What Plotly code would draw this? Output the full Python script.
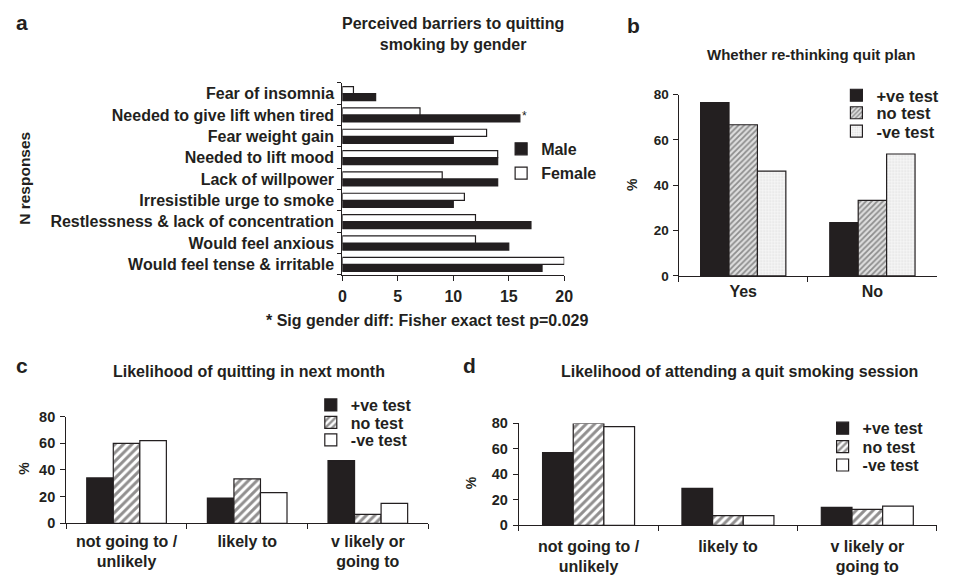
import plotly.graph_objects as go

# ---------------- data ----------------
# Panel a: perceived barriers (top-to-bottom as drawn)
barriers = [
    "Fear of insomnia",
    "Needed to give lift when tired",
    "Fear weight gain",
    "Needed to lift mood",
    "Lack of willpower",
    "Irresistible urge to smoke",
    "Restlessness & lack of concentration",
    "Would feel anxious",
    "Would feel tense & irritable",
]
male = [3, 16, 10, 14, 14, 10, 17, 15, 18]
female = [1, 7, 13, 14, 9, 11, 12, 12, 20]
a_ticks = [0, 5, 10, 15, 20]

# Panel b: whether re-thinking quit plan (%)
replan_cats = ["Yes", "No"]
replan_pos = [76.5, 23.5]
replan_none = [66.7, 33.3]
replan_neg = [46.2, 53.8]

# Panel c: likelihood of quitting in next month (%)
likely_cats = ["not going to /<br>unlikely", "likely to", "v likely or<br>going to"]
quit_pos = [34, 19, 47]
quit_none = [60, 33.3, 6.7]
quit_neg = [62, 23, 15]

# Panel d: likelihood of attending a quit smoking session (%)
attend_pos = [57, 29, 14]
attend_none = [80, 7.5, 12.5]
attend_neg = [77.5, 7.5, 15]

pct_ticks = [0, 20, 40, 60, 80]
group_names = ["+ve test", "no test", "-ve test"]

# ---------------- geometry ----------------
# page is 954x583; the browser's default 8px body margin surrounds the figure
PAGE_OFF = 8
FW, FH = 954 - 2 * PAGE_OFF, 583 - 2 * PAGE_OFF

INK = "#231f20"
FONT = "Liberation Sans, Arial, Helvetica, sans-serif"


def fx(px):
    return min(1.0, max(0.0, (px - PAGE_OFF) / FW))


def fy(py):
    return min(1.0, max(0.0, 1 - (py - PAGE_OFF) / FH))


def bold(size):
    return dict(family=FONT, size=size, color=INK, weight="bold")


line = dict(color=INK, width=1.2)

fig = go.Figure()

# Panel a
fig.add_trace(go.Bar(y=barriers, x=male, orientation="h", name="Male",
                     marker=dict(color=INK, line=line), showlegend=True,
                     xaxis="x", yaxis="y", legend="legend"))
fig.add_trace(go.Bar(y=barriers, x=female, orientation="h", name="Female",
                     marker=dict(color="white", line=line), showlegend=True,
                     xaxis="x", yaxis="y", legend="legend2"))


def add_groups(cats, vals, xa, ya, legs, fine):
    styles = [
        dict(color=INK, line=line),
        dict(color="white", line=line,
             pattern=(dict(shape="/", fgcolor="#3a3a3a", bgcolor="#dedede", size=4, solidity=0.45)
                      if fine else
                      dict(shape="/", fgcolor=INK, bgcolor="white", size=6, solidity=0.5))),
        (dict(color="white", line=line,
              pattern=dict(shape=".", fgcolor="#c8c8c8", bgcolor="#f7f7f7", size=3, solidity=0.3))
         if fine else dict(color="white", line=line)),
    ]
    for name, v, m, lg in zip(group_names, vals, styles, legs):
        fig.add_trace(go.Bar(x=cats, y=v, name=name, marker=m, showlegend=True,
                             xaxis=xa, yaxis=ya, legend=lg))


add_groups(replan_cats, [replan_pos, replan_none, replan_neg], "x2", "y2",
           ["legend3", "legend4", "legend5"], True)
add_groups(likely_cats, [quit_pos, quit_none, quit_neg], "x3", "y3",
           ["legend6", "legend7", "legend8"], False)
add_groups(likely_cats, [attend_pos, attend_none, attend_neg], "x4", "y4",
           ["legend9", "legend10", "legend11"], False)

common_axis = dict(showline=True, linecolor=INK, linewidth=1.2, showgrid=False,
                   zeroline=False, ticks="outside", tickcolor=INK, tickwidth=1.2)

layout = dict(
    width=FW, height=FH,
    margin=dict(l=0, r=0, t=0, b=0, pad=0),
    paper_bgcolor="white", plot_bgcolor="white",
    showlegend=True,
    barmode="group", bargap=0.34, bargroupgap=0,
    font=dict(family=FONT, color=INK),
    xaxis=dict(common_axis, domain=[fx(343), fx(568)], anchor="y", range=[0, 20],
               tickvals=a_ticks, ticklen=5, tickfont=bold(16), ticklabelstandoff=2),
    yaxis=dict(common_axis, domain=[fy(275), fy(77)], anchor="x", type="category",
               categoryorder="array", categoryarray=barriers[::-1],
               tickson="boundaries", ticklen=4, tickfont=bold(16), ticklabelstandoff=4),
    xaxis2=dict(common_axis, domain=[fx(684), fx(953)], anchor="y2",
                tickson="boundaries", ticklen=5, tickfont=bold(16), ticklabelstandoff=1),
    yaxis2=dict(common_axis, domain=[fy(276), fy(89)], anchor="x2", range=[0, 80],
                tickvals=pct_ticks, ticklen=5, tickfont=bold(13.5), ticklabelstandoff=1),
    xaxis3=dict(common_axis, domain=[fx(63), fx(430)], anchor="y3",
                tickson="boundaries", ticklen=5, tickfont=bold(16), ticklabelstandoff=3),
    yaxis3=dict(common_axis, domain=[fy(531), fy(421)], anchor="x3", range=[0, 80],
                tickvals=pct_ticks, ticklen=5, tickfont=bold(14.5), ticklabelstandoff=2),
    xaxis4=dict(common_axis, domain=[fx(522), fx(953)], anchor="y4",
                tickson="boundaries", ticklen=5, tickfont=bold(16), ticklabelstandoff=6),
    yaxis4=dict(common_axis, domain=[fy(533), fy(428)], anchor="x4", range=[0, 80],
                tickvals=pct_ticks, ticklen=5, tickfont=bold(14.5), ticklabelstandoff=2),
)

# one legend per entry so each swatch can sit where the original has it
leg_common = dict(xanchor="left", yanchor="middle", bgcolor="rgba(0,0,0,0)",
                  itemwidth=30, borderwidth=0, visible=True)
legend_spots = [
    # (name, text-start px, centre-y px, font size)
    ("legend", 539, 145, 16),
    ("legend2", 539, 170, 16),
    ("legend3", 879, 90, 16.5),
    ("legend4", 879, 108, 16.5),
    ("legend5", 879, 127, 16.5),
    ("legend6", 346, 409, 16),
    ("legend7", 346, 427, 16),
    ("legend8", 346, 445, 16),
    ("legend9", 865, 433, 16),
    ("legend10", 865, 452, 16),
    ("legend11", 865, 471, 16),
]
for key, tx, cy, fs in legend_spots:
    layout[key] = dict(leg_common, x=fx(tx - 35), y=fy(cy), font=bold(fs))

annotations = [
    dict(text="a", x=fx(18), y=fy(15), font=bold(21), xanchor="center"),
    dict(text="b", x=fx(638), y=fy(18), font=bold(21), xanchor="center"),
    dict(text="c", x=fx(18), y=fy(368), font=bold(21), xanchor="center"),
    dict(text="d", x=fx(472), y=fy(368), font=bold(21), xanchor="center"),
    dict(text="Perceived barriers to quitting<br>smoking by gender", x=fx(455), y=fy(27),
         font=bold(16), xanchor="center"),
    dict(text="Whether re-thinking quit plan", x=fx(711), y=fy(48), font=bold(15), xanchor="left"),
    dict(text="Likelihood of quitting in next month", x=fx(108), y=fy(375), font=bold(16), xanchor="left"),
    dict(text="Likelihood of attending a quit smoking session", x=fx(563), y=fy(374), font=bold(16), xanchor="left"),
    dict(text="N responses", x=fx(21), y=fy(175), textangle=-90, font=bold(15.5), xanchor="center"),
    dict(text="* Sig gender diff: Fisher exact test p=0.029", x=fx(429), y=fy(322),
         font=bold(16), xanchor="center"),
    dict(text="%", x=fx(637), y=fy(182), textangle=-90, font=bold(14), xanchor="center"),
    dict(text="%", x=fx(20), y=fy(474), textangle=-90, font=bold(14), xanchor="center"),
    dict(text="%", x=fx(473), y=fy(489), textangle=-90, font=bold(14), xanchor="center"),
    dict(text="*", x=male[1], y=barriers[1], xref="x", yref="y", yshift=-1,
         font=dict(family=FONT, size=12, color=INK), xanchor="left"),
]
for ann in annotations:
    ann.setdefault("xref", "paper")
    ann.setdefault("yref", "paper")
    ann.setdefault("showarrow", False)
    ann.setdefault("yanchor", "middle")
layout["annotations"] = annotations

fig.update_layout(**layout)
fig.write_html("out.html")
